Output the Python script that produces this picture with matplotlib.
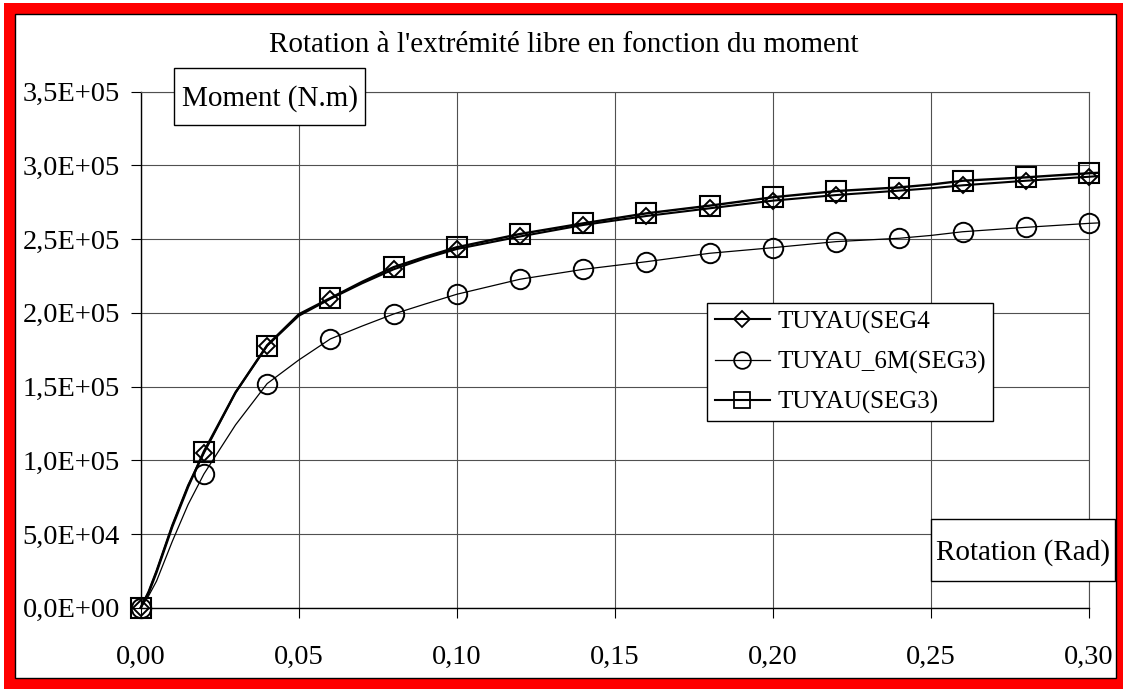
import matplotlib
matplotlib.use('Agg')
import matplotlib.pyplot as plt
from matplotlib.patches import Rectangle
from matplotlib.lines import Line2D
from matplotlib.ticker import FuncFormatter, MultipleLocator

plt.rcParams['font.family'] = ['Liberation Serif', 'DejaVu Serif']

# ---------------- data ----------------
title = "Rotation à l'extrémité libre en fonction du moment"
ylabel = "Moment (N.m)"
xlabel = "Rotation (Rad)"
series_names = ["TUYAU(SEG4", "TUYAU_6M(SEG3)", "TUYAU(SEG3)"]

# line data (denser load steps)
x_line = [0.0, 0.0025, 0.005, 0.01, 0.015, 0.02, 0.03, 0.04, 0.05, 0.06, 0.07, 0.08,
          0.09, 0.10, 0.12, 0.14, 0.16, 0.18, 0.20, 0.22, 0.24, 0.25, 0.26, 0.28, 0.30, 0.303]
seg4_line = [0, 11e3, 25e3, 56e3, 83e3, 105e3, 146e3, 177.7e3, 198e3, 209.5e3, 220e3, 229.5e3,
             237e3, 243.3e3, 251.8e3, 259.6e3, 265.7e3, 270.9e3, 276.1e3, 279.9e3, 282.9e3,
             284.5e3, 286.5e3, 289.6e3, 292.3e3, 292.8e3]
seg6m_line = [0, 8e3, 18e3, 45e3, 70e3, 90.7e3, 124e3, 152e3, 168e3, 182.3e3, 191e3, 199.2e3,
              206e3, 212.6e3, 222.8e3, 229.5e3, 234.7e3, 240.4e3, 244.2e3, 248.3e3, 250.6e3,
              252.5e3, 255e3, 258e3, 260.7e3, 261e3]
seg3_line = [0, 10e3, 24e3, 55e3, 82e3, 106e3, 146e3, 178e3, 199e3, 210e3, 221e3, 231e3,
             238e3, 244.5e3, 253.5e3, 260.7e3, 267.5e3, 272.7e3, 278.4e3, 282.6e3, 285.1e3,
             287e3, 289.6e3, 291.9e3, 294.7e3, 295e3]

# marker data
x_mark = [0.00, 0.02, 0.04, 0.06, 0.08, 0.10, 0.12, 0.14, 0.16, 0.18, 0.20, 0.22, 0.24, 0.26, 0.28, 0.30]
seg4_mark = [0, 105e3, 177.7e3, 209.5e3, 229.5e3, 243.3e3, 251.8e3, 259.6e3, 265.7e3, 270.9e3,
             276.1e3, 279.9e3, 282.9e3, 286.5e3, 289.6e3, 292.3e3]
seg6m_mark = [0, 90.7e3, 152e3, 182.3e3, 199.2e3, 212.6e3, 222.8e3, 229.5e3, 234.7e3, 240.4e3,
              244.2e3, 248.3e3, 250.6e3, 255e3, 258e3, 260.7e3]
seg3_mark = [0, 105.8e3, 177.7e3, 209.9e3, 230.9e3, 244.5e3, 253.5e3, 260.7e3, 267.5e3, 272.7e3,
             278.4e3, 282.6e3, 284.8e3, 289.6e3, 291.9e3, 294.7e3]

# ---------------- figure ----------------
W, H = 1123, 689
fig = plt.figure(figsize=(W / 100, H / 100), dpi=100)
fig.patch.set_facecolor('white')

def fx(px):
    return px / W

def fy(py):
    return 1 - py / H

def prect(x0, y0, x1, y1, **kw):
    return Rectangle((fx(x0), fy(y1)), fx(x1) - fx(x0), fy(y0) - fy(y1),
                     transform=fig.transFigure, **kw)

# red frame
fig.add_artist(prect(4, 3, 1123, 689, facecolor='red', edgecolor='none', zorder=-10))
fig.add_artist(prect(15, 14, 1116, 678, facecolor='white', edgecolor='black', lw=1.0, zorder=-9))

ax = fig.add_axes([fx(140.7), fy(607.7), fx(1089) - fx(140.7), fy(91.7) - fy(607.7)])
ax.set_facecolor('none')
ax.set_xlim(0, 0.30)
ax.set_ylim(0, 3.5e5)
ax.xaxis.set_major_locator(MultipleLocator(0.05))
ax.yaxis.set_major_locator(MultipleLocator(5e4))
ax.xaxis.set_major_formatter(FuncFormatter(lambda v, p: f"{v:.2f}".replace('.', ',')))
ax.yaxis.set_major_formatter(FuncFormatter(lambda v, p: f"{v:.1E}".replace('.', ',')))

ax.grid(True, color='#505050', lw=0.8, zorder=0)
ax.set_axisbelow(True)
for s in ['left', 'bottom']:
    ax.spines[s].set_color('black')
    ax.spines[s].set_linewidth(1.0)
for s in ['top', 'right']:
    ax.spines[s].set_color('#505050')
    ax.spines[s].set_linewidth(0.8)

ax.tick_params(axis='both', direction='out', length=7, width=0.8, colors='black', labelsize=20.5)
ax.tick_params(axis='x', pad=20)
ax.tick_params(axis='y', pad=8)

# lines
ax.plot(x_line, seg6m_line, color='black', lw=0.9, clip_on=False, zorder=3)
ax.plot(x_line, seg4_line, color='black', lw=1.5, clip_on=False, zorder=3)
ax.plot(x_line, seg3_line, color='black', lw=1.7, clip_on=False, zorder=3)
# markers
ax.plot(x_mark, seg6m_mark, ls='none', marker='o', ms=14, mfc='none', mec='black', mew=1.4,
        clip_on=False, zorder=4)
ax.plot(x_mark, seg4_mark, ls='none', marker='D', ms=8.5, mfc='none', mec='black', mew=1.4,
        clip_on=False, zorder=4)
ax.plot(x_mark, seg3_mark, ls='none', marker='s', ms=14.5, mfc='none', mec='black', mew=1.5,
        clip_on=False, zorder=4)

handles = [
    Line2D([], [], color='black', lw=1.5, marker='D', ms=8.5, mfc='none', mec='black', mew=1.3),
    Line2D([], [], color='black', lw=0.9, marker='o', ms=12, mfc='none', mec='black', mew=1.3),
    Line2D([], [], color='black', lw=1.5, marker='s', ms=11.5, mfc='none', mec='black', mew=1.3),
]
leg = ax.legend(handles, series_names, loc='upper left',
                bbox_to_anchor=(fx(707), fy(303)), bbox_transform=fig.transFigure,
                frameon=True, fancybox=False, framealpha=1, edgecolor='black',
                prop={'size': 18}, handlelength=2.2, handletextpad=0.3,
                labelspacing=0.68, borderpad=0.3, borderaxespad=0)
leg.get_frame().set_linewidth(1.0)
leg.set_zorder(6)

# title
fig.text(fx(564), fy(52), title, ha='center', va='baseline', fontsize=21)

# axis label boxes
fig.add_artist(prect(174.3, 68, 365, 125, facecolor='white', edgecolor='black', lw=1.0, zorder=2))
fig.text(fx(269.6), fy(106), ylabel, ha='center', va='baseline', fontsize=21, zorder=3)
fig.add_artist(prect(930.7, 519, 1115, 581, facecolor='white', edgecolor='black', lw=1.0, zorder=2))
fig.text(fx(1023.5), fy(560), xlabel, ha='center', va='baseline', fontsize=21, zorder=3)

fig.savefig('out.png', dpi=100, facecolor='white')
